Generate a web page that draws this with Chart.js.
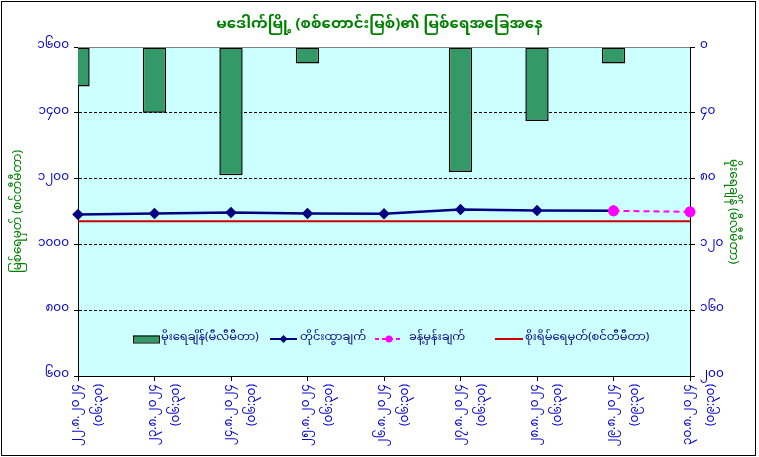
<!DOCTYPE html>
<html><head><meta charset="utf-8">
<script src="https://cdn.jsdelivr.net/npm/chart.js@4.4.1/dist/chart.umd.min.js"></script>
<style>html,body{margin:0;padding:0;background:#fff}canvas{display:block}</style>
</head><body>
<canvas id="c" width="759" height="457"></canvas>
<script>
const titleText = 'မဒေါက်မြို့ (စစ်တောင်းမြစ်)၏ မြစ်ရေအခြေအနေ';
const leftAxisTitle = 'မြစ်ရေမှတ် (စင်တီမီတာ)';
const rightAxisTitle = 'မိုးရေချိန် (မီလီမီတာ)';
const dates = ['၂၂.၈.၂၀၂၄','၂၃.၈.၂၀၂၄','၂၄.၈.၂၀၂၄','၂၅.၈.၂၀၂၄','၂၆.၈.၂၀၂၄','၂၇.၈.၂၀၂၄','၂၈.၈.၂၀၂၄','၂၉.၈.၂၀၂၄','၃၀.၈.၂၀၂၄'];
const times = ['(၀၆:၃၀)','(၀၆:၃၀)','(၀၆:၃၀)','(၀၆:၃၀)','(၀၆:၃၀)','(၀၆:၃၀)','(၀၆:၃၀)','(၀၉:၃၀)','(၀၉:၃၀)'];
const seriesNames = ['မိုးရေချိန်(မီလီမီတာ)','တိုင်းထွာချက်','ခန့်မှန်းချက်','စိုးရိမ်ရေမှတ်(စင်တီမီတာ)'];
const rainfall = [24, 40, 78, 10, 0, 76, 45, 10, null];
const observed = [1091, 1094, 1097, 1094, 1093, 1106, 1103, 1102, null];
const forecast = [null, null, null, null, null, null, null, 1102, 1099];
const dangerLevel = [1070, 1070, 1070, 1070, 1070, 1070, 1070, 1070, 1070];
const leftTickLabels = {600:'၆၀၀',800:'၈၀၀',1000:'၁၀၀၀',1200:'၁၂၀၀',1400:'၁၄၀၀',1600:'၁၆၀၀'};
const rightTickLabels = {0:'၀',40:'၄၀',80:'၈၀',120:'၁၂၀',160:'၁၆၀',200:'၂၀၀'};

const FONT = "'Noto Sans Myanmar','Myanmar Text','Padauk','DejaVu Sans',sans-serif";
const labels = dates.map((d,i)=>[d, times[i]]);

const framePlugin = {
  id:'frame',
  beforeDraw(chart){
    const {ctx, chartArea:a} = chart;
    ctx.save();
    ctx.fillStyle='#fff'; ctx.fillRect(0,0,chart.width,chart.height);
    ctx.fillStyle='#CCFFFF'; ctx.fillRect(a.left,a.top,a.right-a.left,a.bottom-a.top);
    ctx.restore();
  },
  afterDraw(chart){
    const {ctx, chartArea:a} = chart;
    ctx.save();
    ctx.strokeStyle='#808080'; ctx.lineWidth=1;
    ctx.beginPath(); ctx.moveTo(a.left,a.top+0.5); ctx.lineTo(a.right,a.top+0.5); ctx.stroke();
    ctx.strokeStyle='#000';
    ctx.strokeRect(1.5,1.5,754,454);
    // legend inside plot
    const y = 339;
    const L = a.left;
    ctx.font = "11.5px " + FONT;
    ctx.fillStyle = '#000080';
    ctx.textBaseline='middle';
    const ds = chart.data.datasets;
    // bar
    ctx.fillStyle = ds[0].backgroundColor; ctx.fillRect(L+55, y-3.5, 26, 7);
    ctx.strokeStyle='#000'; ctx.strokeRect(L+55.5, y-3, 26, 7);
    ctx.fillStyle='#000080'; ctx.fillText(ds[0].label, L+83, y);
    // observed
    ctx.strokeStyle = ds[1].borderColor; ctx.lineWidth=2;
    ctx.beginPath(); ctx.moveTo(L+192,y); ctx.lineTo(L+219,y); ctx.stroke();
    ctx.fillStyle = ds[1].borderColor;
    ctx.beginPath(); ctx.moveTo(L+205.5,y-4); ctx.lineTo(L+209.5,y); ctx.lineTo(L+205.5,y+4); ctx.lineTo(L+201.5,y); ctx.closePath(); ctx.fill();
    ctx.fillStyle='#000080'; ctx.fillText(ds[1].label, L+222, y);
    // forecast
    ctx.strokeStyle = ds[2].borderColor; ctx.setLineDash([4,3]);
    ctx.beginPath(); ctx.moveTo(L+297,y); ctx.lineTo(L+325,y); ctx.stroke(); ctx.setLineDash([]);
    ctx.fillStyle = ds[2].borderColor;
    ctx.beginPath(); ctx.arc(L+311,y,3.5,0,Math.PI*2); ctx.fill();
    ctx.fillStyle='#000080'; ctx.fillText(ds[2].label, L+331, y);
    // danger
    ctx.strokeStyle = ds[3].borderColor;
    ctx.beginPath(); ctx.moveTo(L+417,y); ctx.lineTo(L+445,y); ctx.stroke();
    ctx.fillStyle='#000080'; ctx.fillText(ds[3].label, L+447, y);
    ctx.restore();
  }
};

new Chart(document.getElementById('c'), {
  data:{
    labels,
    datasets:[
      {type:'bar', label:seriesNames[0], data:rainfall, yAxisID:'y1', backgroundColor:'#339966', borderColor:'#000000', borderWidth:1.5, borderSkipped:false, inflateAmount:0, categoryPercentage:1, barPercentage:0.305, clip:0, order:10},
      {type:'line', label:seriesNames[1], data:observed, yAxisID:'y', borderColor:'#000080', backgroundColor:'#000080', borderWidth:2.5, pointStyle:'rectRot', pointRadius:4, pointHoverRadius:4, tension:0, order:2},
      {type:'line', label:seriesNames[2], data:forecast, yAxisID:'y', borderColor:'#FF00FF', backgroundColor:'#FF00FF', borderWidth:2, borderDash:[6,4], pointStyle:'circle', pointRadius:4.5, pointHoverRadius:4.5, tension:0, order:1},
      {type:'line', label:seriesNames[3], data:dangerLevel, yAxisID:'y', borderColor:'#CC0000', borderWidth:2, pointRadius:0, tension:0, order:3}
    ]
  },
  options:{
    responsive:false, animation:false,
    layout:{padding:{left:0,right:0,top:0,bottom:0}},
    plugins:{
      legend:{display:false}, tooltip:{enabled:false},
      title:{display:true, text:titleText, color:'#008000', font:{family:FONT, size:15, weight:'bold', lineHeight:1.2}, padding:{top:17,bottom:12}}
    },
    scales:{
      x:{
        type:'category', offset:false,
        grid:{offset:false, drawOnChartArea:false, drawTicks:true, tickLength:5, color:'#000'},
        border:{color:'#000', width:1},
        ticks:{color:'#0000CC', font:{family:FONT,size:12,lineHeight:1.9}, maxRotation:90, minRotation:90, autoSkip:false, padding:3},
        afterFit(s){ s.height = 81; }
      },
      y:{
        position:'left', min:600, max:1600,
        ticks:{stepSize:200, color:'#0000CC', font:{family:FONT,size:12}, padding:5, callback:v=>leftTickLabels[v]},
        grid:{color:c=> (c.tick && (c.tick.value===600||c.tick.value===1600)) ? 'rgba(0,0,0,0)' : '#000', lineWidth:1, tickLength:4, tickColor:'#000', tickBorderDash:[], },
        border:{color:'#000', dash:[3,2], width:1},
        title:{display:true, text:leftAxisTitle, color:'#008000', font:{family:FONT,size:12}, padding:{top:13,bottom:0}},
        afterFit(s){ s.width = 78; }
      },
      y1:{
        position:'right', min:0, max:200, reverse:true,
        ticks:{stepSize:40, color:'#0000CC', font:{family:FONT,size:12}, padding:5, callback:v=>rightTickLabels[v]},
        grid:{drawOnChartArea:false, tickLength:5, color:'#000'},
        border:{color:'#000', width:1},
        title:{display:true, text:rightAxisTitle, color:'#008000', font:{family:FONT,size:12}, padding:{top:21,bottom:0}},
        afterFit(s){ s.width = 69; }
      }
    }
  },
  plugins:[framePlugin]
});
</script>
</body></html>
